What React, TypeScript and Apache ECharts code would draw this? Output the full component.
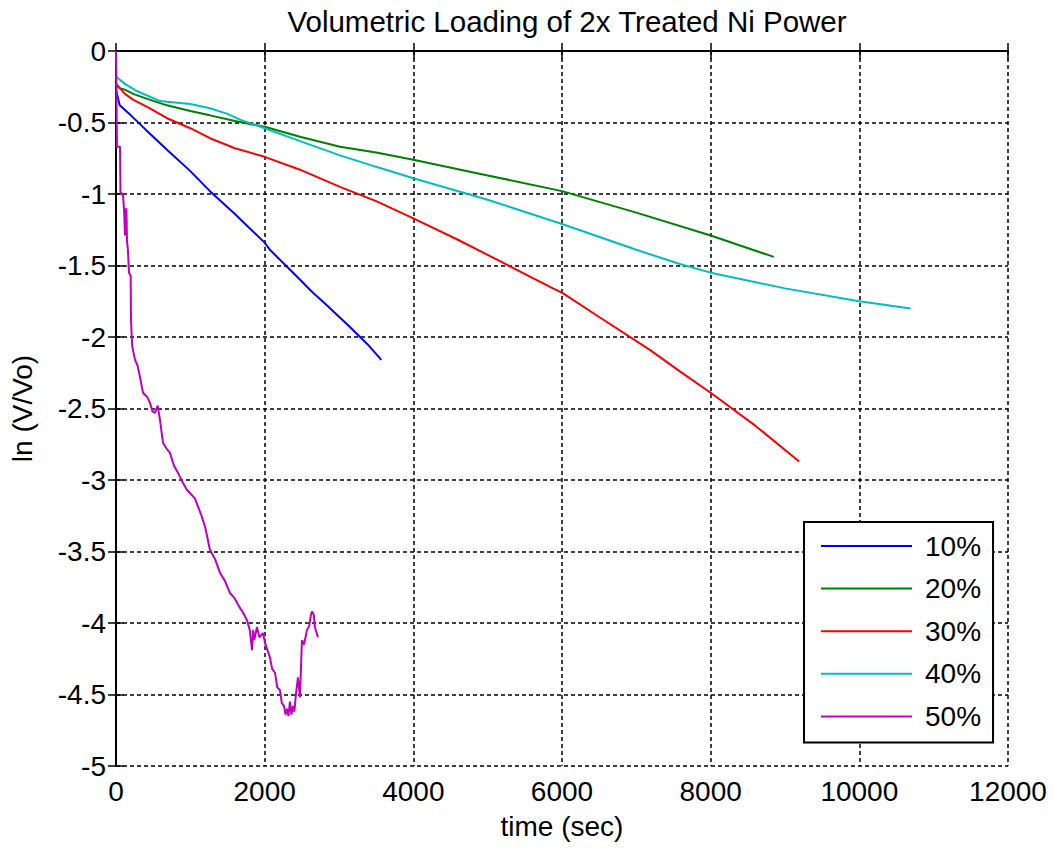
import React, { useEffect, useRef } from "react";
import * as echarts from "echarts";

const TITLE = "Volumetric Loading of 2x Treated Ni Power";
const X_NAME = "time (sec)";
const Y_NAME = "ln (V/Vo)";
const SERIES_NAMES = ["10%", "20%", "30%", "40%", "50%"];
const SERIES_COLORS = ["#0000FF", "#008000", "#FF0000", "#00BFBF", "#BF00BF"];

const s10: [number, number][] = [
  [0, -0.27], [50, -0.38], [200, -0.45], [400, -0.55], [686, -0.69], [1000, -0.84],
  [1264, -0.98], [1600, -1.14], [2000, -1.34], [2071, -1.39], [2400, -1.56], [2650, -1.69],
  [2800, -1.76], [3147, -1.93], [3400, -2.06], [3570, -2.16],
];

const s20: [number, number][] = [
  [0, -0.24], [50, -0.26], [121, -0.27], [229, -0.30], [450, -0.34], [686, -0.38],
  [1000, -0.42], [1264, -0.45], [1600, -0.49], [2000, -0.53], [2475, -0.60], [3013, -0.67],
  [3500, -0.71], [4000, -0.76], [5000, -0.87], [6000, -0.98], [7000, -1.13], [8000, -1.29],
  [8850, -1.44],
];

const s30: [number, number][] = [
  [0, -0.23], [121, -0.30], [229, -0.34], [450, -0.40], [686, -0.47], [1000, -0.54],
  [1264, -0.61], [1600, -0.68], [2000, -0.74], [2475, -0.83], [3013, -0.95], [3500, -1.05],
  [4000, -1.17], [4600, -1.32], [5205, -1.48], [5878, -1.66], [6000, -1.69], [6500, -1.86],
  [7182, -2.09], [7586, -2.24], [8000, -2.39], [8600, -2.62], [9190, -2.87],
];

const s40: [number, number][] = [
  [0, -0.18], [121, -0.23], [280, -0.28], [592, -0.35], [686, -0.355], [1000, -0.37],
  [1264, -0.40], [1500, -0.44], [1668, -0.48], [2000, -0.54], [2475, -0.63], [3013, -0.73],
  [3500, -0.81], [4000, -0.89], [5000, -1.04], [6000, -1.21], [7000, -1.39], [7586, -1.49],
  [8000, -1.55], [9000, -1.66], [10000, -1.75], [10690, -1.80],
];

const s50: [number, number][] = [
  [0, 0], [13, -0.67], [54, -0.67], [60, -0.99], [94, -1.0], [110, -1.13], [121, -1.29],
  [130, -1.12], [140, -1.10], [148, -1.33], [160, -1.39], [175, -1.55], [197, -1.57],
  [202, -1.88], [217, -2.06], [256, -2.16], [290, -2.2], [323, -2.28], [363, -2.39],
  [420, -2.42], [457, -2.46], [490, -2.52], [525, -2.53], [560, -2.48], [592, -2.58],
  [632, -2.74], [680, -2.78], [726, -2.81], [780, -2.9], [834, -2.95], [900, -3.02],
  [955, -3.07], [1010, -3.1], [1063, -3.13], [1150, -3.25], [1200, -3.33], [1264, -3.49],
  [1330, -3.55], [1400, -3.65], [1460, -3.7], [1533, -3.79], [1600, -3.83], [1650, -3.88],
  [1700, -3.92], [1762, -3.98], [1800, -4.05], [1830, -4.19], [1845, -4.05], [1860, -4.12],
  [1896, -4.03], [1930, -4.1], [1977, -4.07], [2010, -4.15], [2071, -4.24], [2100, -4.32],
  [2140, -4.35], [2170, -4.45], [2206, -4.47], [2230, -4.56], [2260, -4.58], [2280, -4.64],
  [2300, -4.6], [2320, -4.65], [2340, -4.55], [2360, -4.64], [2380, -4.58], [2400, -4.62],
  [2420, -4.5], [2448, -4.38], [2475, -4.52], [2501, -4.12], [2530, -4.15], [2569, -4.05],
  [2600, -4.02], [2620, -3.95], [2636, -3.92], [2660, -3.94], [2676, -4.03], [2717, -4.10],
];

const SERIES_DATA = [s10, s20, s30, s40, s50];

const X_MIN = 0;
const X_MAX = 12000;
const X_INTERVAL = 2000;
const Y_MIN = -5;
const Y_MAX = 0;
const Y_INTERVAL = 0.5;

const FONT = "'Liberation Sans', Arial, Helvetica, sans-serif";

export default function App() {
  const ref = useRef<HTMLDivElement>(null);

  useEffect(() => {
    document.body.style.margin = "0";
    if (!ref.current) return;
    const chart = echarts.init(ref.current, undefined, { renderer: "svg" });

    const axisLine = { show: true, lineStyle: { color: "#000", width: 2 } };
    const tick = { show: true, inside: true, length: 8, lineStyle: { color: "#000", width: 1.5 } };
    const grid = { show: true, lineStyle: { color: "#000", width: 1.5, type: [4, 3] as any } };
    const plain = (v: number) => String(v);

    chart.setOption({
      animation: false,
      backgroundColor: "#fff",
      textStyle: { fontFamily: FONT },
      title: {
        text: TITLE,
        left: 562,
        top: 1,
        textAlign: "center",
        textStyle: { fontFamily: FONT, fontSize: 29.5, fontWeight: "normal", color: "#000" },
      },
      grid: { left: 116, top: 51, width: 892, height: 715, containLabel: false },
      legend: {
        data: SERIES_NAMES,
        orient: "vertical",
        left: 804,
        top: 522,
        padding: [10, 12, 12, 17],
        icon: "rect",
        itemWidth: 91,
        itemHeight: 2,
        itemGap: 14.6,
        backgroundColor: "#fff",
        borderColor: "#000",
        borderWidth: 2,
        borderRadius: 0,
        selectedMode: false,
        textStyle: { fontFamily: FONT, fontSize: 28, color: "#000", padding: [0, 0, 0, 8] },
      },
      xAxis: [
        {
          type: "value",
          position: "bottom",
          min: X_MIN,
          max: X_MAX,
          interval: X_INTERVAL,
          name: X_NAME,
          nameLocation: "middle",
          nameGap: 46,
          nameTextStyle: { fontFamily: FONT, fontSize: 28, color: "#000" },
          axisLine,
          axisTick: tick,
          axisLabel: { fontFamily: FONT, fontSize: 28, color: "#000", margin: 11, formatter: plain },
          splitLine: grid,
        },
        {
          type: "value",
          position: "top",
          min: X_MIN,
          max: X_MAX,
          interval: X_INTERVAL,
          axisLine,
          axisTick: tick,
          axisLabel: { show: false },
          splitLine: { show: false },
        },
      ],
      yAxis: [
        {
          type: "value",
          position: "left",
          min: Y_MIN,
          max: Y_MAX,
          interval: Y_INTERVAL,
          name: Y_NAME,
          nameLocation: "middle",
          nameGap: 80,
          nameTextStyle: { fontFamily: FONT, fontSize: 28, color: "#000" },
          axisLine,
          axisTick: tick,
          axisLabel: { fontFamily: FONT, fontSize: 28, color: "#000", margin: 10, formatter: plain },
          splitLine: grid,
        },
        {
          type: "value",
          position: "right",
          min: Y_MIN,
          max: Y_MAX,
          interval: Y_INTERVAL,
          axisLine,
          axisTick: tick,
          axisLabel: { show: false },
          splitLine: { show: false },
        },
      ],
      series: SERIES_NAMES.map((name, i) => ({
        name,
        type: "line",
        data: SERIES_DATA[i],
        symbol: "none",
        showSymbol: false,
        xAxisIndex: 0,
        yAxisIndex: 0,
        lineStyle: { color: SERIES_COLORS[i], width: 2 },
        itemStyle: { color: SERIES_COLORS[i] },
        emphasis: { disabled: true },
        z: 3,
      })),
    });

    return () => chart.dispose();
  }, []);

  return <div ref={ref} style={{ width: 1054, height: 850 }} />;
}
